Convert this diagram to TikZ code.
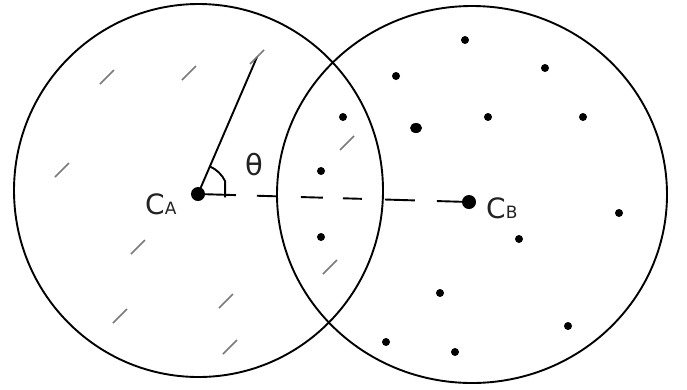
\documentclass[tikz,border=0pt]{standalone}
\usepackage{fontspec}
\setmainfont{DejaVu Sans}
\usetikzlibrary{positioning, calc, shapes.geometric}

\begin{document}
\begin{tikzpicture}[
    x=1pt, y=-1pt,
    every node/.style={inner sep=0pt},
    rim/.style={line width=1.9pt},
    hash/.style={hashcolor, line width=1.5pt},
    grain/.style={circle, fill=black, inner sep=0pt, minimum size=8pt},
    centre/.style={circle, fill=black, inner sep=0pt, minimum size=14pt},
]

% ---------------------------------------------------------------- colours
\definecolor{hashcolor}{HTML}{7A7A7A}   % the strokes of A
\definecolor{labelcolor}{HTML}{222222}

\useasboundingbox (0,0) rectangle (687,389);

% ================================================================
%   left region  centre (198.5, 190.5), radii 184.5 / 186.5
%   right region centre (472, 194.5),  radii 195 / 188.5
%   y runs downwards, so angles are taken negative
% ================================================================

\draw[rim] (198.5,190.5) ellipse [x radius=184.5, y radius=186.5];
\draw[rim] (472,194.5) ellipse [x radius=195, y radius=188.5];

% centres
\node[centre] (ca) at (198,194) {};
\node[centre] (cb) at (469,202) {};

\node[anchor=base west, text=labelcolor] (calabel) at (145,214)
    {\fontsize{28}{30}\selectfont C{\fontsize{17}{17}\selectfont A}};
\node[anchor=base west, text=labelcolor] (cblabel) at (486,218)
    {\fontsize{28}{30}\selectfont C{\fontsize{17}{17}\selectfont B}};

% the join of the two centres
\draw[rim, dash pattern=on 38pt off 21pt on 21pt off 23pt on 22pt off 20pt
    on 19pt off 23pt on 30pt off 22pt on 31pt] (ca.center) -- (cb.center);

% radius and its angle
\coordinate (rimpt) at (257,57);
\draw[rim] (ca.center) -- (rimpt);
\draw[rim] ($(ca.center)+(-66.7:30)$) arc[start angle=-66.7, end angle=-25, radius=30]
    -- ++(0,16);
\node[text=labelcolor] (theta) at (254,165) {\fontsize{29}{30}\selectfont θ};

% strokes of the left region
\foreach \x/\y in {107/77, 189/73, 257/57, 62/170, 347/143, 138/247,
    330/267, 226/301, 120/316, 230/347} {
    \draw[hash] (\x-7,\y+7) -- (\x+7,\y-7);
}

% grains of the right region
\foreach \x/\y [count=\i] in {465/40, 396/76, 545/68, 343/117, 488/117,
    583/117, 321/171, 321/237, 619/213, 519/239, 440/293, 568/326,
    386/342, 455/352} {
    \node[grain] (g\i) at (\x,\y) {};
}
\node[grain, ellipse, minimum width=12pt, minimum height=10pt] (gbig) at (416,128) {};

\end{tikzpicture}
\end{document}
